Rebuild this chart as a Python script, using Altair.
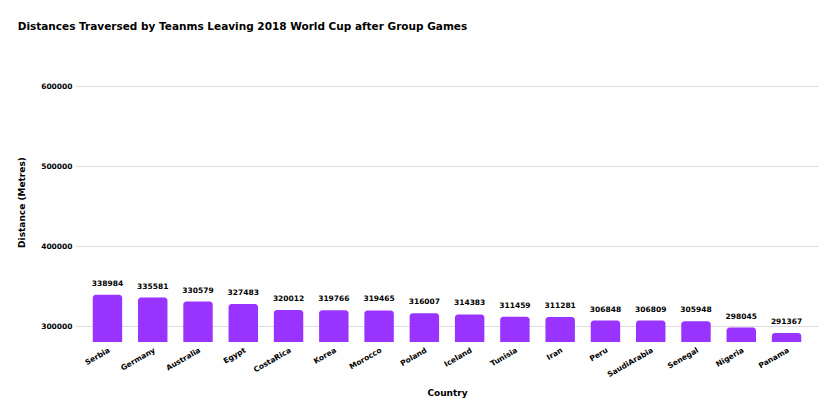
import altair as alt
import pandas as pd

countries = ["Serbia", "Germany", "Australia", "Egypt", "CostaRica", "Korea", "Morocco",
             "Poland", "Iceland", "Tunisia", "Iran", "Peru", "SaudiArabia", "Senegal",
             "Nigeria", "Panama"]
distances = [338984, 335581, 330579, 327483, 320012, 319766, 319465, 316007, 314383,
             311459, 311281, 306848, 306809, 305948, 298045, 291367]
y_ticks = [300000, 400000, 500000, 600000]
y_min = 280000

df = pd.DataFrame({"Country": countries, "Distance": distances})

FONT = "DejaVu Sans"

x = alt.X("Country:N", sort=countries, title="Country",
          scale=alt.Scale(paddingInner=0.35, paddingOuter=0.37),
          axis=alt.Axis(labelAngle=-30, labelFontSize=7.5, labelFontWeight="bold",
                        labelFont=FONT, labelColor="#000", titleFont=FONT,
                        titleFontSize=9, titleFontWeight="bold", titleColor="#000",
                        ticks=False, domain=False, labelPadding=4, titlePadding=10))
y = alt.Y("Distance:Q", title="Distance (Metres)",
          scale=alt.Scale(domain=[y_min, 630000], nice=False, zero=False),
          axis=alt.Axis(values=y_ticks, format="d", labelFontSize=7.5, labelFontWeight="bold",
                        labelFont=FONT, labelColor="#000", titleFont=FONT,
                        titleFontSize=9, titleFontWeight="bold", titleColor="#000",
                        ticks=False, domain=False, gridColor="#dddddd", labelPadding=4,
                        titlePadding=14))

base = alt.Chart(df)
bars = base.mark_bar(color="#9933ff", cornerRadiusTopLeft=3, cornerRadiusTopRight=3).encode(
    x=x, y=y, y2=alt.datum(y_min))
text = base.mark_text(baseline="bottom", dy=-7, font=FONT, fontSize=7.5,
                      fontWeight="bold", color="#000").encode(
    x=alt.X("Country:N", sort=countries),
    y="Distance:Q", text=alt.Text("Distance:Q", format="d"))

chart = (bars + text).properties(
    width=742, height=280,
    title=alt.TitleParams("Distances Traversed by Teanms Leaving 2018 World Cup after Group Games",
                          anchor="start", frame="bounds", font=FONT, fontSize=10.5,
                          fontWeight="bold", color="#000", offset=30),
    autosize=alt.AutoSizeParams(type="none"),
    padding={"left": 68, "top": 54, "right": 9, "bottom": 62},
).configure_view(stroke=None)

chart.save("out.html", embed_options={"renderer": "svg", "actions": False})
